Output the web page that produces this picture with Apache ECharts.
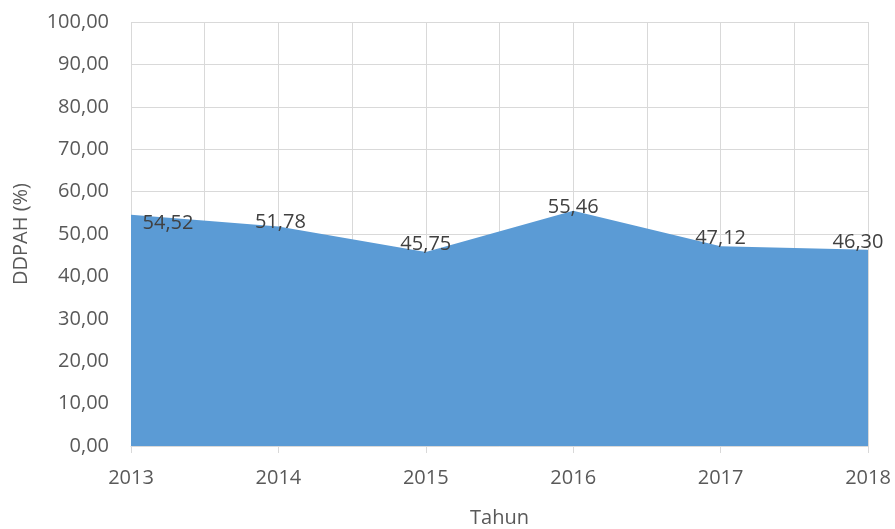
<!DOCTYPE html>
<html>
<head>
<meta charset="utf-8">
<script src="https://cdn.jsdelivr.net/npm/echarts@6/dist/echarts.min.js"></script>
<style>
  html, body { margin: 0; padding: 0; background: #fff; }
  #main { width: 895px; height: 529px; }
</style>
</head>
<body>
<div id="main"></div>
<script>
// data
var years = ['2013', '2014', '2015', '2016', '2017', '2018'];
var ddpah = [54.52, 51.78, 45.75, 55.46, 47.12, 46.30];

var fmt = function (v) { return v.toFixed(2).replace('.', ','); };

// geser label supaya mirip posisi label Excel
var labelOffsets = [[37, 16], [2, 3], [0, 0], [0, 4], [0, 0], [-10, 0]];

var chart = echarts.init(document.getElementById('main'));

var seriesData = ddpah.map(function (v, i) {
    return { value: v, label: { offset: labelOffsets[i] } };
});

chart.setOption({
    animation: false,
    textStyle: { fontFamily: 'Open Sans' },
    grid: { left: 131, right: 27, top: 22, bottom: 83, outerBoundsMode: 'none' },
    xAxis: [{
        type: 'category',
        data: years,
        boundaryGap: false,
        name: 'Tahun',
        nameLocation: 'middle',
        nameGap: 62,
        nameTextStyle: { color: '#595959', fontSize: 20 },
        axisLine: { lineStyle: { color: '#d9d9d9', width: 1 } },
        axisTick: { show: true, alignWithLabel: true, length: 7, lineStyle: { color: '#d9d9d9' } },
        axisLabel: { color: '#595959', fontSize: 20, margin: 22 },
        splitLine: { show: false }
    }, {
        // cuma buat garis grid vertikal tiap setengah kategori
        type: 'value',
        position: 'top',
        min: 0,
        max: 10,
        interval: 1,
        axisLine: { show: false },
        axisTick: { show: false },
        axisLabel: { show: false },
        splitLine: { show: true, lineStyle: { color: '#d9d9d9', width: 1 } }
    }],
    yAxis: {
        type: 'value',
        min: 0,
        max: 100,
        interval: 10,
        name: 'DDPAH (%)',
        nameLocation: 'middle',
        nameGap: 100,
        nameTextStyle: { color: '#595959', fontSize: 20 },
        axisLine: { show: false },
        axisTick: { show: false },
        axisLabel: { color: '#595959', fontSize: 20, margin: 22, formatter: fmt },
        splitLine: { lineStyle: { color: '#d9d9d9', width: 1 } }
    },
    series: [{
        type: 'line',
        xAxisIndex: 0,
        data: seriesData,
        symbol: 'circle',
        symbolSize: 1,
        showSymbol: true,
        itemStyle: { color: 'rgba(0,0,0,0)' },
        lineStyle: { width: 0 },
        areaStyle: { color: '#5b9bd5', opacity: 1 },
        label: {
            show: true,
            position: 'top',
            distance: -3,
            color: '#404040',
            fontSize: 20,
            formatter: function (p) { return fmt(p.value); }
        },
        z: 3
    }]
});
</script>
</body>
</html>
